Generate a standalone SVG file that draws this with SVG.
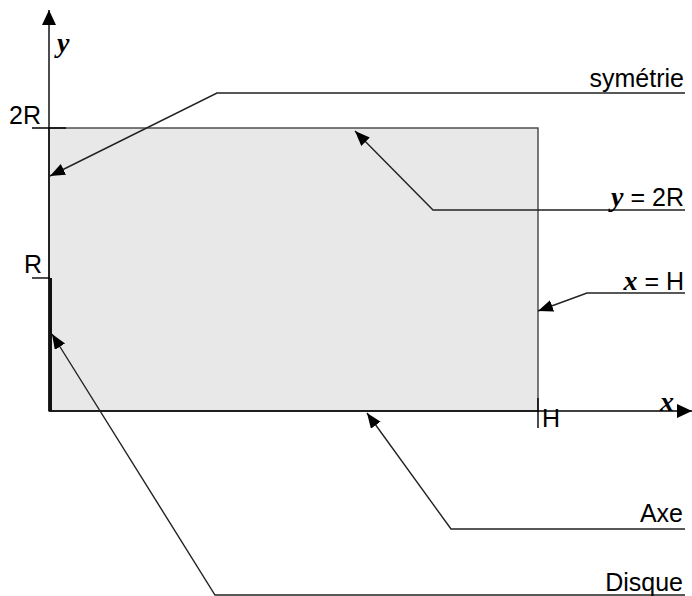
<svg xmlns="http://www.w3.org/2000/svg" width="692" height="596" viewBox="0 0 692 596">
<defs>
<marker id="ah" markerUnits="userSpaceOnUse" markerWidth="16" markerHeight="14" refX="15" refY="6" orient="auto">
<path d="M0,0 L15,6 L0,12 Z" fill="#000"/>
</marker>
<marker id="ax" markerUnits="userSpaceOnUse" markerWidth="16" markerHeight="16" refX="15" refY="7" orient="auto">
<path d="M0,0 L15,7 L0,14 Z" fill="#000"/>
</marker>
</defs>
<style>
.lbl{font-family:"Liberation Sans",Arial,sans-serif;font-size:25px;fill:#000}
.var{font-family:"Liberation Serif","Times New Roman",serif;font-style:italic;font-weight:bold;font-size:28px;fill:#000}
.ln{stroke:#000;stroke-width:1.4;fill:none}
.lead{stroke:#222;stroke-width:1.4;fill:none}
</style>
<g id="domain">
<rect x="49" y="128" width="489" height="283" fill="#e8e8e8" stroke="#444" stroke-width="1.4"/>
</g>
<g id="axes">
<line class="ln" x1="49" y1="411" x2="49" y2="10" marker-end="url(#ax)"/>
<line class="ln" x1="49" y1="411" x2="692" y2="411" marker-end="url(#ax)"/>
<line class="ln" x1="32" y1="128" x2="66" y2="128"/>
<line class="ln" x1="32" y1="278" x2="50" y2="278"/>
<line class="ln" x1="538" y1="398" x2="538" y2="428"/>
<line x1="50.5" y1="278" x2="50.5" y2="411" stroke="#111" stroke-width="3"/>
<text class="var" x="57" y="52">y</text>
<text class="var" x="660" y="411">x</text>
<text class="lbl" x="9" y="124">2R</text>
<text class="lbl" x="24" y="273">R</text>
<text class="lbl" x="542" y="427">H</text>
</g>
<g id="connectors">
<polyline class="lead" points="685,93 217,93 50,176" marker-end="url(#ah)"/>
<polyline class="lead" points="685,210 433,210 355,131" marker-end="url(#ah)"/>
<polyline class="lead" points="685,293 587,293 538,311" marker-end="url(#ah)"/>
<polyline class="lead" points="685,529 451,529 367,413" marker-end="url(#ah)"/>
<polyline class="lead" points="685,595 215,595 52,334" marker-end="url(#ah)"/>
</g>
<g id="label-symetrie"><text class="lbl" x="684" y="87" text-anchor="end">symétrie</text></g>
<g id="label-y2R"><text class="lbl" x="684" y="206" text-anchor="end"><tspan class="var">y</tspan> = 2R</text></g>
<g id="label-xH"><text class="lbl" x="684" y="290" text-anchor="end"><tspan class="var">x</tspan> = H</text></g>
<g id="label-axe"><text class="lbl" x="683" y="522" text-anchor="end">Axe</text></g>
<g id="label-disque"><text class="lbl" x="683" y="591" text-anchor="end">Disque</text></g>
</svg>
